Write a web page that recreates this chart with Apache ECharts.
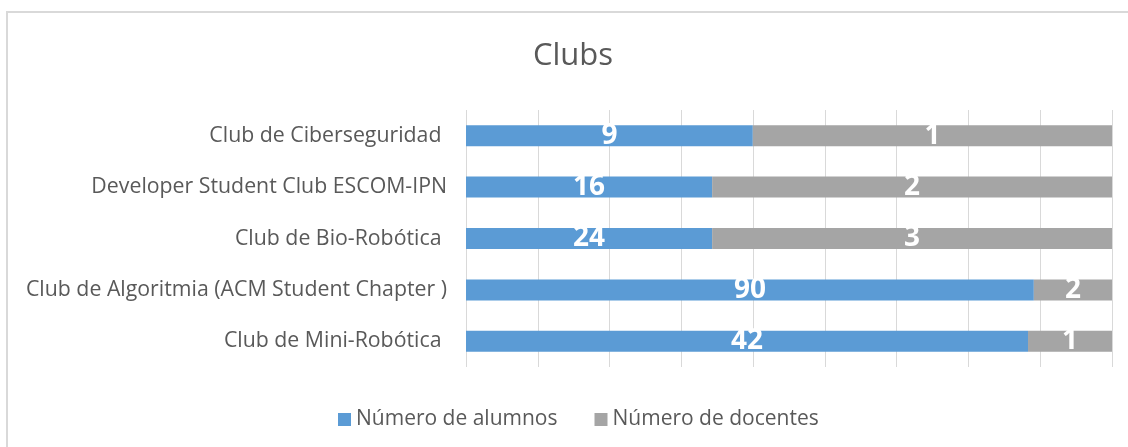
<!DOCTYPE html>
<html>
<head>
<meta charset="utf-8">
<script src="https://cdn.jsdelivr.net/npm/echarts@6/dist/echarts.min.js"></script>
<style>
html,body{margin:0;padding:0;background:#fff;}
#chart{width:1128px;height:447px;}
</style>
</head>
<body>
<div id="chart"></div>
<script>
// Categories, top to bottom
var categories = [
  "Club de Ciberseguridad ",
  "Developer Student Club ESCOM-IPN",
  "Club de Bio-Robótica ",
  "Club de Algoritmia (ACM Student Chapter )",
  "Club de Mini-Robótica "
];
// Share of bar length (percent of full bar) as drawn in the reference
var alumnosShare = [44.4, 38.1, 38.1, 87.9, 87.0];
var docentesShare = [55.6, 61.9, 61.9, 12.1, 13.0];
// Data labels shown on the bars
var alumnosLabels = [9, 16, 24, 90, 42];
var docentesLabels = [1, 2, 3, 2, 1];
var seriesNames = ["Número de alumnos", "Número de docentes"];

var FONT = "Open Sans";
var TXT = "#595959";
var chart = echarts.init(document.getElementById('chart'), null, {renderer: 'canvas'});
chart.setOption({
  animation: false,
  backgroundColor: '#ffffff',
  title: {
    text: 'Clubs',
    left: 568,
    textAlign: 'center',
    top: 36,
    textStyle: {fontFamily: FONT, fontSize: 31, fontWeight: 'normal', color: TXT}
  },
  legend: {
    data: seriesNames,
    left: 333,
    top: 404,
    itemWidth: 13,
    itemHeight: 13,
    itemGap: 37,
    icon: 'rect',
    textStyle: {fontFamily: FONT, fontSize: 21, color: TXT}
  },
  grid: {left: 466, right: 16, top: 110, bottom: 80, containLabel: false},
  xAxis: {
    type: 'value',
    min: 0,
    max: 100,
    interval: 100 / 9,
    axisLabel: {show: false},
    axisLine: {show: false},
    axisTick: {show: false},
    splitLine: {show: true, lineStyle: {color: '#D9D9D9', width: 1}}
  },
  yAxis: {
    type: 'category',
    inverse: true,
    data: categories,
    axisLine: {show: false},
    axisTick: {show: false},
    axisLabel: {margin: 19, fontFamily: FONT, fontSize: 21.3, color: TXT}
  },
  series: [
    {
      name: seriesNames[0],
      type: 'bar',
      stack: 'total',
      barWidth: 21,
      itemStyle: {color: '#5B9BD5'},
      label: {
        show: true, position: 'inside',
        formatter: function(p){ return alumnosLabels[p.dataIndex]; },
        color: '#fff', fontFamily: FONT, fontWeight: 'bold', fontSize: 28
      },
      data: alumnosShare
    },
    {
      name: seriesNames[1],
      type: 'bar',
      stack: 'total',
      barWidth: 21,
      itemStyle: {color: '#A5A5A5'},
      label: {
        show: true, position: 'inside',
        formatter: function(p){ return docentesLabels[p.dataIndex]; },
        color: '#fff', fontFamily: FONT, fontWeight: 'bold', fontSize: 28
      },
      data: docentesShare
    }
  ],
  graphic: [
    {type: 'line', shape: {x1: 7, y1: 12, x2: 7, y2: 447}, style: {stroke: '#D9D9D9', lineWidth: 2}, silent: true},
    {type: 'line', shape: {x1: 6, y1: 12, x2: 1128, y2: 12}, style: {stroke: '#D9D9D9', lineWidth: 2}, silent: true}
  ]
});
</script>
</body>
</html>
